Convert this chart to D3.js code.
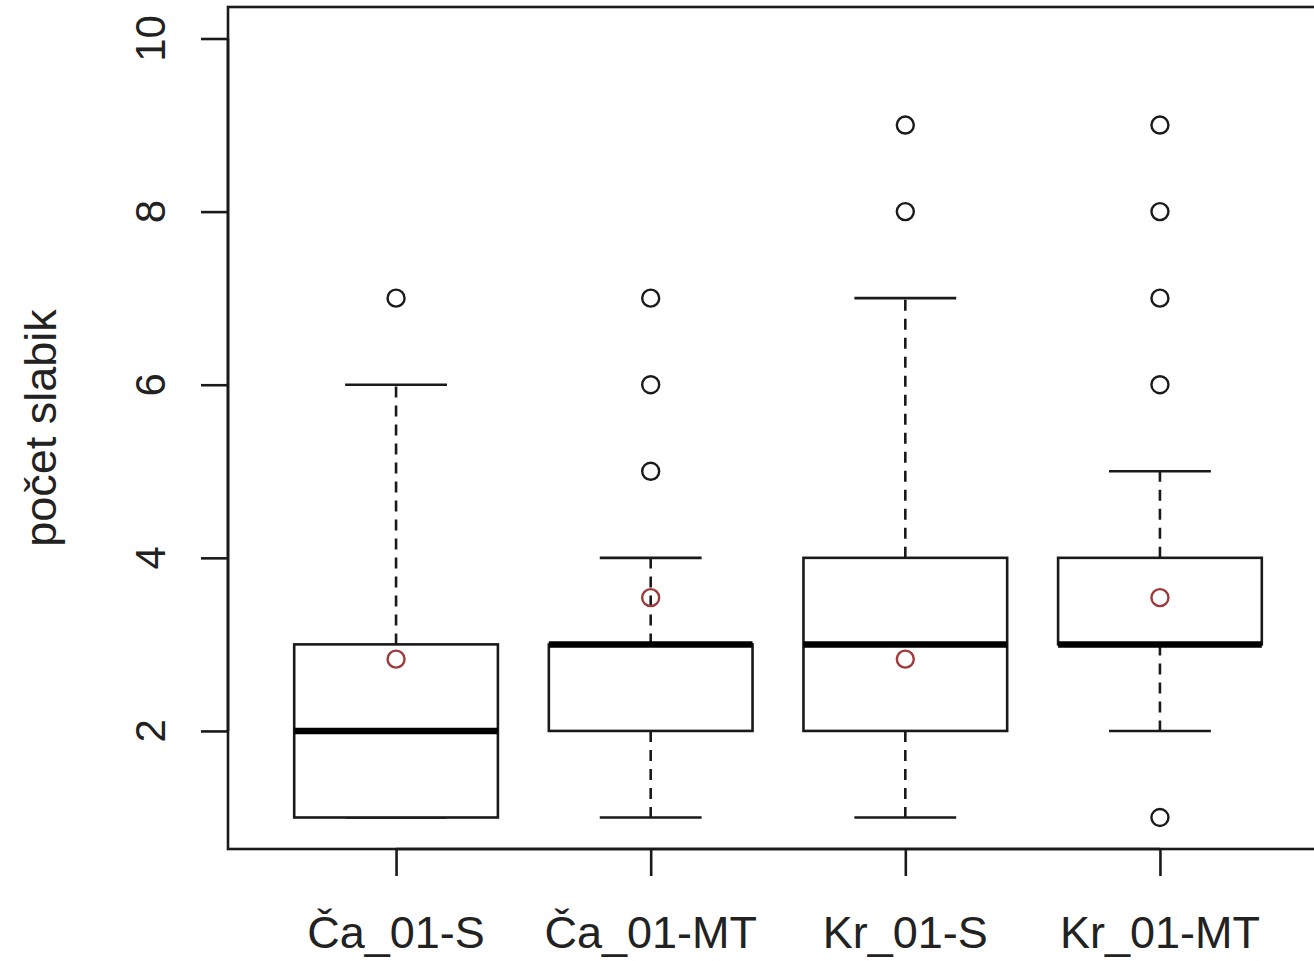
<!DOCTYPE html>
<html>
<head>
<meta charset="utf-8">
<script src="https://cdn.jsdelivr.net/npm/d3@7"></script>
<style>
  html, body { margin: 0; padding: 0; background: #fff; }
  svg { display: block; font-family: "Liberation Sans", Arial, sans-serif; }
</style>
</head>
<body>
<svg id="chart" width="1314" height="961"></svg>
<script>
const categories = ["Ča_01-S", "Ča_01-MT", "Kr_01-S", "Kr_01-MT"];
const lowerWhisker = [1, 1, 1, 2];
const q1 = [1, 2, 2, 3];
const medians = [2, 3, 3, 3];
const q3 = [3, 3, 4, 4];
const upperWhisker = [6, 4, 7, 5];
const outliers = [[7], [5, 6, 7], [8, 9], [1, 6, 7, 8, 9]];
const means = [2.83, 3.54, 2.83, 3.54];
const yTicks = [2, 4, 6, 8, 10];
const yTitle = "počet slabik";

const svg = d3.select("#chart");
const ink = "#1a1a1a";

// R-style extended ranges: positions 1..4 with 0.5 padding, plus 4%
const x = d3.scaleLinear().domain([0.34, 4.66]).range([228, 1328]);
const y = d3.scaleLinear().domain([0.636, 10.364]).range([849, 7]);

const unit = x(2) - x(1);
const boxW = unit * 0.8;
const capW = boxW * 0.5;

const data = categories.map((c, i) => ({
  name: c,
  pos: i + 1,
  lo: lowerWhisker[i],
  q1: q1[i],
  med: medians[i],
  q3: q3[i],
  hi: upperWhisker[i],
  out: outliers[i],
  mean: means[i],
}));

const g = svg.append("g");

const boxG = g.selectAll("g.box").data(data).join("g").attr("class", "box");

// whiskers (dashed)
boxG.append("line")
  .attr("x1", (d) => x(d.pos)).attr("x2", (d) => x(d.pos))
  .attr("y1", (d) => y(d.q3)).attr("y2", (d) => y(d.hi))
  .attr("stroke", ink).attr("stroke-width", 2.6).attr("stroke-dasharray", "11,8");
boxG.append("line")
  .attr("x1", (d) => x(d.pos)).attr("x2", (d) => x(d.pos))
  .attr("y1", (d) => y(d.q1)).attr("y2", (d) => y(d.lo))
  .attr("stroke", ink).attr("stroke-width", 2.6).attr("stroke-dasharray", "11,8");

// staples
boxG.append("line")
  .attr("x1", (d) => x(d.pos) - capW / 2).attr("x2", (d) => x(d.pos) + capW / 2)
  .attr("y1", (d) => y(d.hi)).attr("y2", (d) => y(d.hi))
  .attr("stroke", ink).attr("stroke-width", 2.6);
boxG.append("line")
  .attr("x1", (d) => x(d.pos) - capW / 2).attr("x2", (d) => x(d.pos) + capW / 2)
  .attr("y1", (d) => y(d.lo)).attr("y2", (d) => y(d.lo))
  .attr("stroke", ink).attr("stroke-width", 2.6);

// boxes
boxG.append("rect")
  .attr("x", (d) => x(d.pos) - boxW / 2)
  .attr("width", boxW)
  .attr("y", (d) => y(d.q3))
  .attr("height", (d) => y(d.q1) - y(d.q3))
  .attr("fill", "#fff")
  .attr("stroke", ink).attr("stroke-width", 2.6);

// medians
boxG.append("line")
  .attr("x1", (d) => x(d.pos) - boxW / 2).attr("x2", (d) => x(d.pos) + boxW / 2)
  .attr("y1", (d) => y(d.med)).attr("y2", (d) => y(d.med))
  .attr("stroke", "#000").attr("stroke-width", 6.5);

// outliers
boxG.selectAll("circle.out")
  .data((d) => d.out.map((v) => ({ pos: d.pos, v })))
  .join("circle")
  .attr("class", "out")
  .attr("cx", (d) => x(d.pos)).attr("cy", (d) => y(d.v))
  .attr("r", 8.5)
  .attr("fill", "none").attr("stroke", ink).attr("stroke-width", 2.4);

// means (red circles)
boxG.append("circle")
  .attr("cx", (d) => x(d.pos)).attr("cy", (d) => y(d.mean))
  .attr("r", 8.5)
  .attr("fill", "none").attr("stroke", "#9e3a3a").attr("stroke-width", 2.4);

// frame
svg.append("rect")
  .attr("x", 228).attr("y", 7)
  .attr("width", 1328 - 228).attr("height", 849 - 7)
  .attr("fill", "none").attr("stroke", ink).attr("stroke-width", 2.6);

// y axis
const yAxisG = svg.append("g")
  .attr("transform", "translate(228,0)")
  .call(d3.axisLeft(y).tickValues(yTicks).tickSize(27).tickFormat(""));
yAxisG.select(".domain").attr("stroke", ink).attr("stroke-width", 2.6)
  .attr("d", `M0,${y(2)}V${y(10)}`);
yAxisG.selectAll(".tick line").attr("stroke", ink).attr("stroke-width", 2.6);

svg.append("g").selectAll("text").data(yTicks).join("text")
  .attr("transform", (d) => `translate(165,${y(d)}) rotate(-90)`)
  .attr("text-anchor", "middle")
  .attr("font-size", 42)
  .attr("fill", "#222")
  .text((d) => d);

// x axis ticks
const xAxisG = svg.append("g")
  .attr("transform", "translate(0,849)")
  .call(d3.axisBottom(x).tickValues(data.map((d) => d.pos)).tickSize(27).tickFormat(""));
xAxisG.select(".domain").attr("stroke", ink).attr("stroke-width", 2.6)
  .attr("d", `M${x(1)},0H${x(4)}`);
xAxisG.selectAll(".tick line").attr("stroke", ink).attr("stroke-width", 2.6);

svg.append("g").selectAll("text").data(data).join("text")
  .attr("x", (d) => x(d.pos))
  .attr("y", 948)
  .attr("text-anchor", "middle")
  .attr("font-size", 45)
  .attr("fill", "#222")
  .text((d) => d.name);

// y title
svg.append("text")
  .attr("transform", `translate(56,428) rotate(-90)`)
  .attr("text-anchor", "middle")
  .attr("font-size", 45)
  .attr("fill", "#222")
  .text(yTitle);
</script>
</body>
</html>
